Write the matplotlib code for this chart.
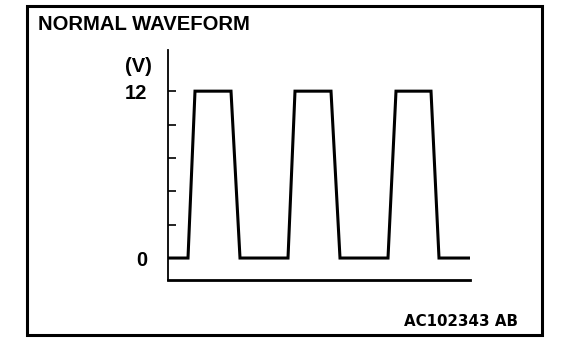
import matplotlib
matplotlib.use("Agg")
import matplotlib.pyplot as plt
from matplotlib.patches import Rectangle

plt.rcParams['font.family'] = ['Liberation Sans', 'DejaVu Sans']

# waveform corner points (time in arbitrary units, voltage in V)
t = [0, 20, 27, 63, 72, 120, 127, 163, 172, 220, 228, 263, 271, 301]
v = [0, 0, 12, 12, 0, 0, 12, 12, 0, 0, 12, 12, 0, 0]
y_ticks = [0, 2.4, 4.8, 7.2, 9.6, 12]
y_tick_labels = ['0', '', '', '', '', '12']

W, H = 576, 362
fig = plt.figure(figsize=(W / 100, H / 100), dpi=100)

# outer frame
fig.patches.append(Rectangle((27 / W, 1 - 335 / H), (542 - 27) / W, (335 - 5.5) / H,
                             transform=fig.transFigure, fill=False, lw=2.2, ec='black'))

# plot area in pixels: x 168..470, y 50..280
axs = fig.add_axes([168 / W, 1 - 280 / H, (470 - 168) / W, (280 - 50) / H])
axs.plot(t, v, c='black', lw=2.2, solid_joinstyle='miter')
axs.set_xlim(0, 302)
axs.set_ylim(-1.58, 14.96)
axs.spines['right'].set_visible(False)
axs.spines['top'].set_visible(False)
axs.spines['left'].set_linewidth(1.3)
axs.spines['bottom'].set_linewidth(2.0)
axs.set_xticks([])
axs.set_yticks(y_ticks)
axs.set_yticklabels(y_tick_labels, fontweight='bold')
axs.tick_params(axis='y', direction='in', length=6, width=1.2, pad=15, labelsize=14.5)

fig.text(38 / W, 1 - 25 / H, "NORMAL WAVEFORM", fontsize=14.6, fontweight='bold',
         va='center', ha='left')
fig.text(138 / W, 1 - 66 / H, "(V)", fontsize=14.5, fontweight='bold', va='center', ha='center')
fig.text(518 / W, 1 - 321 / H, "AC102343 AB", fontsize=10.8, fontweight='bold',
         family='DejaVu Sans', va='center', ha='right')

plt.savefig("out.png", dpi=100)
